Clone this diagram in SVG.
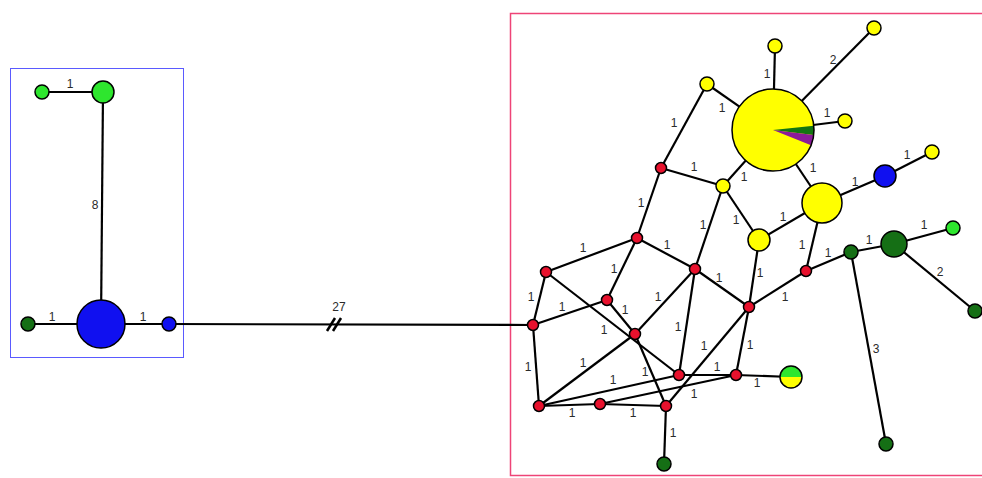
<svg xmlns="http://www.w3.org/2000/svg" width="982" height="478" viewBox="0 0 982 478">
<style>
.e{stroke:#000;stroke-width:2.2;fill:none}
.n{stroke:#000;stroke-width:1.5}
.r{fill:#e8112d}
.y{fill:#ffff00}
.lg{fill:#2ee62e}
.dg{fill:#156f15}
.b{fill:#1010f0}
.l{font-family:"Liberation Sans",Arial,sans-serif;font-size:12px;fill:#2a2a2a;text-anchor:middle}
</style>
<rect width="982" height="478" fill="#fff"/>
<rect x="10.5" y="68.5" width="173" height="289" fill="none" stroke="#5a5aff" stroke-width="1"/>
<rect x="510.5" y="13.5" width="480" height="462" fill="none" stroke="#ee4477" stroke-width="1.5"/>
<g id="connectors">
<line class="e" x1="42" y1="92" x2="103" y2="92"/>
<line class="e" x1="103" y1="92" x2="101" y2="324"/>
<line class="e" x1="28" y1="324" x2="101" y2="324"/>
<line class="e" x1="101" y1="324" x2="169" y2="324"/>
<line class="e" x1="169" y1="324" x2="533" y2="325"/>
<line x1="327" y1="331" x2="335" y2="318" stroke="#000" stroke-width="2.5"/>
<line x1="333" y1="331" x2="341" y2="318" stroke="#000" stroke-width="2.5"/>
<line class="e" x1="533" y1="325" x2="546" y2="272"/>
<line class="e" x1="546" y1="272" x2="637" y2="238"/>
<line class="e" x1="533" y1="325" x2="607" y2="300"/>
<line class="e" x1="607" y1="300" x2="637" y2="238"/>
<line class="e" x1="607" y1="300" x2="635" y2="334"/>
<line class="e" x1="546" y1="272" x2="679" y2="375"/>
<line class="e" x1="637" y1="238" x2="695" y2="269"/>
<line class="e" x1="635" y1="334" x2="695" y2="269"/>
<line class="e" x1="695" y1="269" x2="723" y2="186"/>
<line class="e" x1="695" y1="269" x2="749" y2="307"/>
<line class="e" x1="695" y1="269" x2="679" y2="375"/>
<line class="e" x1="666" y1="406" x2="749" y2="307"/>
<line class="e" x1="749" y1="307" x2="736" y2="375"/>
<line class="e" x1="749" y1="307" x2="806" y2="271"/>
<line class="e" x1="759" y1="240" x2="749" y2="307"/>
<line class="e" x1="533" y1="325" x2="539" y2="406"/>
<line class="e" x1="539" y1="406" x2="635" y2="334"/>
<line class="e" x1="539" y1="406" x2="679" y2="375"/>
<line class="e" x1="635" y1="334" x2="666" y2="406"/>
<line class="e" x1="539" y1="406" x2="600" y2="404"/>
<line class="e" x1="600" y1="404" x2="666" y2="406"/>
<line class="e" x1="600" y1="404" x2="736" y2="375"/>
<line class="e" x1="679" y1="375" x2="736" y2="375"/>
<line class="e" x1="736" y1="375" x2="791" y2="377"/>
<line class="e" x1="666" y1="406" x2="664" y2="464"/>
<line class="e" x1="661" y1="168" x2="707" y2="84"/>
<line class="e" x1="707" y1="84" x2="773" y2="130"/>
<line class="e" x1="661" y1="168" x2="723" y2="186"/>
<line class="e" x1="723" y1="186" x2="773" y2="130"/>
<line class="e" x1="661" y1="168" x2="637" y2="238"/>
<line class="e" x1="723" y1="186" x2="759" y2="240"/>
<line class="e" x1="773" y1="130" x2="822" y2="203"/>
<line class="e" x1="759" y1="240" x2="822" y2="203"/>
<line class="e" x1="822" y1="203" x2="885" y2="176"/>
<line class="e" x1="885" y1="176" x2="932" y2="152"/>
<line class="e" x1="773" y1="130" x2="845" y2="121"/>
<line class="e" x1="773" y1="130" x2="874" y2="28"/>
<line class="e" x1="773" y1="130" x2="775" y2="46"/>
<line class="e" x1="822" y1="203" x2="806" y2="271"/>
<line class="e" x1="806" y1="271" x2="851" y2="252"/>
<line class="e" x1="851" y1="252" x2="894" y2="244"/>
<line class="e" x1="894" y1="244" x2="953" y2="228"/>
<line class="e" x1="894" y1="244" x2="975" y2="311"/>
<line class="e" x1="851" y1="252" x2="886" y2="444"/>
</g>
<g id="labels">
<text class="l" x="70" y="88">1</text>
<text class="l" x="95" y="209">8</text>
<text class="l" x="52" y="321">1</text>
<text class="l" x="143" y="321">1</text>
<text class="l" x="339" y="311">27</text>
<text class="l" x="531" y="301">1</text>
<text class="l" x="583" y="252">1</text>
<text class="l" x="562" y="311">1</text>
<text class="l" x="614" y="273">1</text>
<text class="l" x="625" y="314">1</text>
<text class="l" x="604" y="334">1</text>
<text class="l" x="667" y="249">1</text>
<text class="l" x="658" y="301">1</text>
<text class="l" x="703" y="229">1</text>
<text class="l" x="719" y="282">1</text>
<text class="l" x="678" y="331">1</text>
<text class="l" x="704" y="350">1</text>
<text class="l" x="750" y="349">1</text>
<text class="l" x="785" y="301">1</text>
<text class="l" x="760" y="277">1</text>
<text class="l" x="528" y="371">1</text>
<text class="l" x="583" y="367">1</text>
<text class="l" x="613" y="384">1</text>
<text class="l" x="645" y="376">1</text>
<text class="l" x="572" y="417">1</text>
<text class="l" x="633" y="417">1</text>
<text class="l" x="694" y="398">1</text>
<text class="l" x="717" y="371">1</text>
<text class="l" x="757" y="387">1</text>
<text class="l" x="673" y="437">1</text>
<text class="l" x="674" y="127">1</text>
<text class="l" x="722" y="112">1</text>
<text class="l" x="694" y="171">1</text>
<text class="l" x="744" y="181">1</text>
<text class="l" x="641" y="207">1</text>
<text class="l" x="736" y="224">1</text>
<text class="l" x="813" y="172">1</text>
<text class="l" x="783" y="221">1</text>
<text class="l" x="855" y="186">1</text>
<text class="l" x="907" y="159">1</text>
<text class="l" x="827" y="117">1</text>
<text class="l" x="833" y="64">2</text>
<text class="l" x="767" y="78">1</text>
<text class="l" x="802" y="249">1</text>
<text class="l" x="828" y="257">1</text>
<text class="l" x="869" y="244">1</text>
<text class="l" x="924" y="229">1</text>
<text class="l" x="940" y="276">2</text>
<text class="l" x="876" y="353">3</text>
</g>
<g id="n-lg1"><circle class="n lg" cx="42" cy="92" r="7"/></g>
<g id="n-lg2"><circle class="n lg" cx="103" cy="92" r="11"/></g>
<g id="n-blue-big"><circle class="n b" cx="101" cy="324" r="24"/></g>
<g id="n-dg-left"><circle class="n dg" cx="28" cy="324" r="7"/></g>
<g id="n-blue-small"><circle class="n b" cx="169" cy="324" r="7"/></g>
<g id="n-C"><circle class="n r" cx="533" cy="325" r="5.5"/></g>
<g id="n-A"><circle class="n r" cx="546" cy="272" r="5.5"/></g>
<g id="n-B"><circle class="n r" cx="637" cy="238" r="5.5"/></g>
<g id="n-D"><circle class="n r" cx="607" cy="300" r="5.5"/></g>
<g id="n-E"><circle class="n r" cx="635" cy="334" r="5.5"/></g>
<g id="n-F"><circle class="n r" cx="695" cy="269" r="5.5"/></g>
<g id="n-G"><circle class="n r" cx="749" cy="307" r="5.5"/></g>
<g id="n-H"><circle class="n r" cx="679" cy="375" r="5.5"/></g>
<g id="n-I"><circle class="n r" cx="736" cy="375" r="5.5"/></g>
<g id="n-J"><circle class="n r" cx="539" cy="406" r="5.5"/></g>
<g id="n-K"><circle class="n r" cx="600" cy="404" r="5.5"/></g>
<g id="n-L"><circle class="n r" cx="666" cy="406" r="5.5"/></g>
<g id="n-P"><circle class="n r" cx="661" cy="168" r="5.5"/></g>
<g id="n-R2"><circle class="n r" cx="806" cy="271" r="5.5"/></g>
<g id="n-M"><circle class="n dg" cx="664" cy="464" r="7"/></g>
<g id="n-N">
<path d="M780,377 A11,11 0 0 1 802,377 Z" fill="#2ee62e"/>
<path d="M780,377 A11,11 0 0 0 802,377 Z" fill="#ffff00"/>
<circle cx="791" cy="377" r="11" fill="none" stroke="#000" stroke-width="1.5"/>
</g>
<g id="n-Q"><circle class="n y" cx="707" cy="84" r="7"/></g>
<g id="n-R"><circle class="n y" cx="723" cy="186" r="7"/></g>
<g id="n-S"><circle class="n y" cx="759" cy="240" r="11"/></g>
<g id="n-big">
<circle cx="773" cy="130" r="41" fill="#ffff00"/>
<path d="M773,130 L813.78,125.71 A41,41 0 0 1 813.69,135 Z" fill="#127512"/>
<path d="M773,130 L813.69,135 A41,41 0 0 1 811.01,145.36 Z" fill="#8b1a9a"/>
<circle cx="773" cy="130" r="41" fill="none" stroke="#000" stroke-width="1.5"/>
</g>
<g id="n-T1"><circle class="n y" cx="775" cy="46" r="7"/></g>
<g id="n-T2"><circle class="n y" cx="874" cy="28" r="7"/></g>
<g id="n-T3"><circle class="n y" cx="845" cy="121" r="7"/></g>
<g id="n-Y2"><circle class="n y" cx="822" cy="203" r="20"/></g>
<g id="n-BL"><circle class="n b" cx="885" cy="176" r="11"/></g>
<g id="n-T4"><circle class="n y" cx="932" cy="152" r="7"/></g>
<g id="n-DG1"><circle class="n dg" cx="851" cy="252" r="7"/></g>
<g id="n-DG2"><circle class="n dg" cx="894" cy="244" r="13"/></g>
<g id="n-LG"><circle class="n lg" cx="953" cy="228" r="7"/></g>
<g id="n-DG3"><circle class="n dg" cx="975" cy="311" r="7"/></g>
<g id="n-DG4"><circle class="n dg" cx="886" cy="444" r="7"/></g>
</svg>
